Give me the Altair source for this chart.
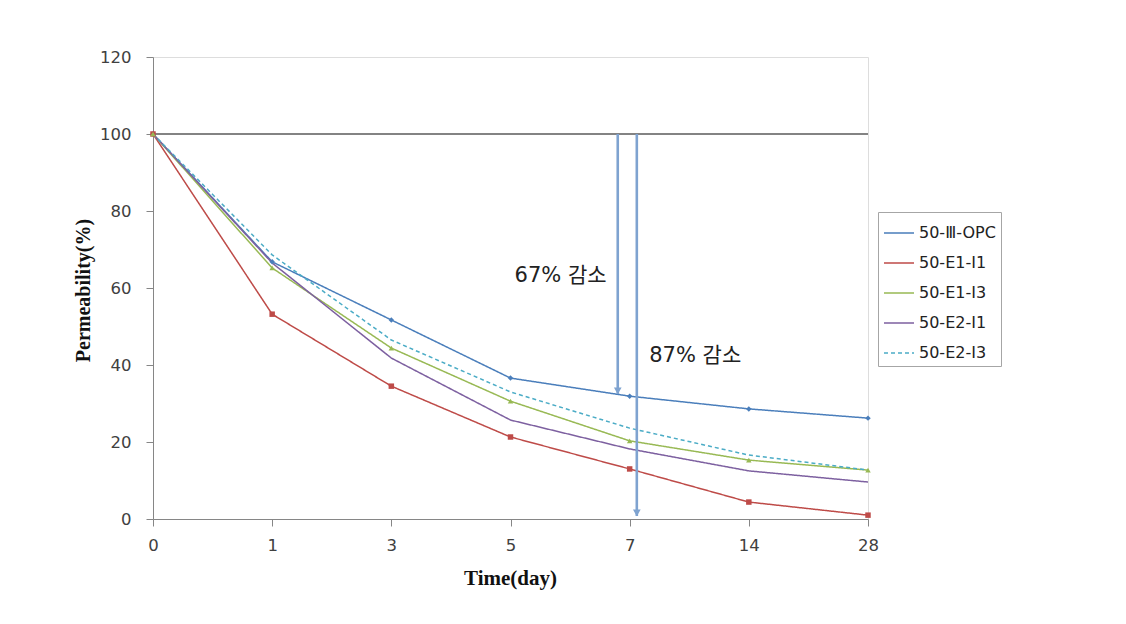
import altair as alt
import pandas as pd

# ---- data ----
days = ["0", "1", "3", "5", "7", "14", "28"]
series_names = ["50-Ⅲ-OPC", "50-E1-I1", "50-E1-I3", "50-E2-I1", "50-E2-I3"]
opc = [100, 66.8, 51.7, 36.6, 31.9, 28.6, 26.2]
e1i1 = [100, 53.2, 34.5, 21.3, 13.0, 4.4, 1.0]
e1i3 = [100, 65.2, 44.4, 30.6, 20.3, 15.3, 12.7]
e2i1 = [100, 66.5, 41.8, 25.7, 18.2, 12.5, 9.6]
e2i3 = [100, 68.6, 46.5, 33.0, 23.6, 16.6, 12.7]
series_values = [opc, e1i1, e1i3, e2i1, e2i3]
colors = ["#4A7EBB", "#BE4B48", "#98B954", "#7D60A0", "#4BACC6"]
dashes = [[1, 0], [1, 0], [1, 0], [1, 0], [4, 3]]
marker_series = ["50-Ⅲ-OPC", "50-E1-I1", "50-E1-I3"]
marker_shapes = ["diamond", "square", "triangle-up"]

ref_level = [100, 100]
ref_x = [0, 6]

arrow_x = [3.90, 4.06]
arrow_top = [100, 100]
arrow_bottom = [32.5, 0.8]

note_text = ["67% 감소", "87% 감소"]
note_x = [3.42, 4.55]
note_y = [63.0, 42.3]

rows = []
for name, vals in zip(series_names, series_values):
    for i, v in enumerate(vals):
        rows.append({"series": name, "idx": i, "day": days[i], "value": v})
df = pd.DataFrame(rows)
df_mark = df[df["series"].isin(marker_series)]

ref_df = pd.DataFrame({"x": ref_x, "y": ref_level})
arrow_df = pd.DataFrame({"x": arrow_x, "y": arrow_top, "y2": arrow_bottom})
note_df = pd.DataFrame({"x": note_x, "y": note_y, "t": note_text})

label_expr = "[" + ",".join("'" + d + "'" for d in days) + "][datum.value]"

xs = alt.Scale(domain=[0, 6], nice=False, zero=False)
ys = alt.Scale(domain=[0, 120], nice=False)

LABEL_FONT = "DejaVu Sans"

x_axis = alt.Axis(values=list(range(7)), labelExpr=label_expr, title="Time(day)",
                  grid=False, domainColor="#868686", tickColor="#868686", tickSize=7,
                  labelFont=LABEL_FONT, labelFontSize=16.5, labelColor="#404040",
                  labelPadding=11, labelFlush=False,
                  titleFont="Liberation Serif", titleFontSize=21,
                  titleFontWeight="bold", titleColor="#111111",
                  titleX=357, titleY=59, titleBaseline="middle", titleAlign="center")
y_axis = alt.Axis(values=list(range(0, 121, 20)), title="Permeability(%)", grid=False,
                  domainColor="#868686", tickColor="#868686", tickSize=7,
                  labelFont=LABEL_FONT, labelFontSize=16.5, labelColor="#404040",
                  labelPadding=15, labelFlush=False,
                  titleFont="Liberation Serif", titleFontSize=20,
                  titleFontWeight="bold", titleColor="#111111",
                  titleX=-70, titleY=233, titleBaseline="middle", titleAlign="center",
                  titleAngle=270)

base = alt.Chart(df)

lines = base.mark_line(strokeWidth=1.5).encode(
    x=alt.X("idx:Q", scale=xs, axis=x_axis),
    y=alt.Y("value:Q", scale=ys, axis=y_axis),
    color=alt.Color("series:N", scale=alt.Scale(domain=series_names, range=colors),
                    sort=series_names,
                    legend=alt.Legend(title=None, orient="none", legendX=725, legendY=155,
                                      symbolType="stroke", symbolSize=900,
                                      symbolStrokeWidth=1.5, labelFont=LABEL_FONT,
                                      labelFontSize=16, labelColor="#222222",
                                      rowPadding=6, labelOffset=4, padding=5,
                                      strokeColor="#A6A6A6", fillColor="white")),
    strokeDash=alt.StrokeDash("series:N", scale=alt.Scale(domain=series_names, range=dashes),
                              sort=series_names, legend=None),
    detail="series:N",
)

points = alt.Chart(df_mark).mark_point(filled=True, size=30, opacity=1).encode(
    x=alt.X("idx:Q", scale=xs),
    y=alt.Y("value:Q", scale=ys),
    color=alt.Color("series:N", scale=alt.Scale(domain=series_names, range=colors), legend=None),
    shape=alt.Shape("series:N", scale=alt.Scale(domain=marker_series, range=marker_shapes), legend=None),
)

ref = alt.Chart(ref_df).mark_line(color="#5a5a5a", strokeWidth=1.3).encode(
    x=alt.X("x:Q", scale=xs), y=alt.Y("y:Q", scale=ys))

arrow_lines = alt.Chart(arrow_df).mark_rule(color="#7FA3D0", strokeWidth=2.6).encode(
    x=alt.X("x:Q", scale=xs), y=alt.Y("y:Q", scale=ys), y2="y2:Q")
arrow_heads = alt.Chart(arrow_df).mark_point(shape="triangle-down", filled=True, size=60,
                                             color="#7FA3D0", opacity=1, yOffset=-3).encode(
    x=alt.X("x:Q", scale=xs), y=alt.Y("y2:Q", scale=ys))

notes = alt.Chart(note_df).mark_text(font="DejaVu Sans, Noto Sans CJK KR", fontSize=21,
                                     color="#222222", align="center", baseline="middle").encode(
    x=alt.X("x:Q", scale=xs), y=alt.Y("y:Q", scale=ys), text="t:N")

chart = alt.layer(ref, lines, points, arrow_lines, arrow_heads, notes).properties(
    width=715, height=462,
    autosize=alt.AutoSizeParams(type="none"),
    padding={"left": 153, "top": 57, "right": 258, "bottom": 105},
).configure_view(stroke="#BFBFBF", strokeWidth=1).configure(background="white")

chart.save("out.html", embed_options={"renderer": "svg", "actions": False})
